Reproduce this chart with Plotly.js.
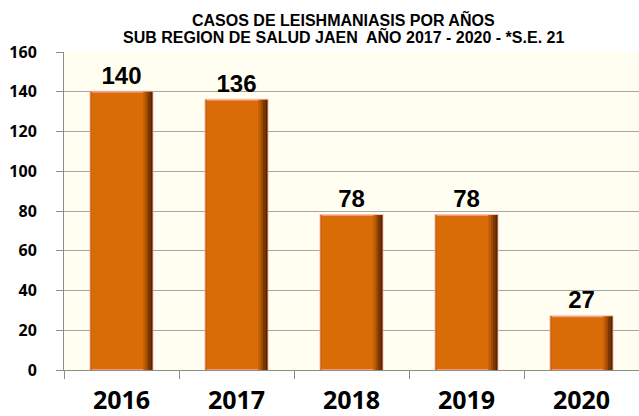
<!DOCTYPE html>
<html>
<head>
<meta charset="utf-8">
<script src="https://cdn.plot.ly/plotly-3.0.1.min.js"></script>
<style>html,body{margin:0;padding:0;background:#fff;}#chart{width:639px;height:416px;}</style>
</head>
<body>
<div id="chart"></div>
<script>
const years = ["2016", "2017", "2018", "2019", "2020"];
const cases = [140, 136, 78, 78, 27];
const yTicks = [0, 20, 40, 60, 80, 100, 120, 140, 160];
const titleLines = ["CASOS DE LEISHMANIASIS POR AÑOS", "SUB REGION DE SALUD JAEN  AÑO 2017 - 2020 - *S.E. 21"];

// main bars (with soft pink halo outline)
const mainBars = {
  type: "bar",
  x: years,
  y: cases,
  width: 0.54,
  offset: -0.27,
  marker: {color: "#D96C06", line: {color: "rgba(250,170,160,0.75)", width: 2}},
  text: cases.map(String),
  textposition: "outside",
  textfont: {family: "Liberation Sans, Arial, sans-serif", size: 24, color: "#000", weight: "bold"},
  cliponaxis: false,
  hoverinfo: "skip"
};

// bevel shading strips drawn from the same data
const shadeSpecs = [
  {offset: -0.27, width: 0.012, color: "#C45F08"},
  {offset: 0.19, width: 0.02, color: "#C05E05"},
  {offset: 0.21, width: 0.02, color: "#9E4B04"},
  {offset: 0.23, width: 0.02, color: "#7A3702"},
  {offset: 0.25, width: 0.02, color: "#552400"}
];
const shades = shadeSpecs.map(s => ({
  type: "bar",
  x: years,
  y: cases,
  width: s.width,
  offset: s.offset,
  marker: {color: s.color, line: {width: 0}},
  hoverinfo: "skip",
  cliponaxis: true
}));

const layout = {
  width: 639,
  height: 416,
  margin: {l: 64, r: 0, t: 52, b: 46},
  paper_bgcolor: "#ffffff",
  plot_bgcolor: "#FFFEF0",
  showlegend: false,
  barmode: "overlay",
  annotations: [
    {text: "<b>" + titleLines[0] + "</b>", xref: "paper", yref: "paper", x: (343 - 64) / 575, y: 1, yshift: 33,
     xanchor: "center", yanchor: "middle", showarrow: false,
     font: {family: "Liberation Sans Narrow, Arial Narrow, Liberation Sans, sans-serif", size: 16, color: "#000"}},
    {text: "<b>" + titleLines[1] + "</b>", xref: "paper", yref: "paper", x: (343 - 64) / 575, y: 1, yshift: 16,
     xanchor: "center", yanchor: "middle", showarrow: false,
     font: {family: "Liberation Sans Narrow, Arial Narrow, Liberation Sans, sans-serif", size: 16, color: "#000"}}
  ],
  xaxis: {
    type: "category",
    showgrid: false,
    showline: true,
    linecolor: "#8C8C8C",
    linewidth: 1,
    ticks: "outside",
    tickson: "boundaries",
    ticklen: 8,
    tickcolor: "#8C8C8C",
    ticklabelstandoff: 8,
    tickfont: {family: "Open Sans, Lato, sans-serif", size: 25, color: "#000", weight: "bold"}
  },
  yaxis: {
    range: [0, 160],
    tickvals: yTicks,
    ticktext: yTicks.map(String),
    showgrid: true,
    gridcolor: "#A6A6A6",
    gridwidth: 1,
    showline: true,
    linecolor: "#8C8C8C",
    ticks: "outside",
    ticklen: 7,
    tickcolor: "#8C8C8C",
    ticklabelstandoff: 16,
    zeroline: false,
    tickfont: {family: "Open Sans, Lato, sans-serif", size: 16, color: "#000", weight: "bold"}
  }
};

Plotly.newPlot("chart", [mainBars].concat(shades), layout, {displayModeBar: false, staticPlot: true});
</script>
</body>
</html>
